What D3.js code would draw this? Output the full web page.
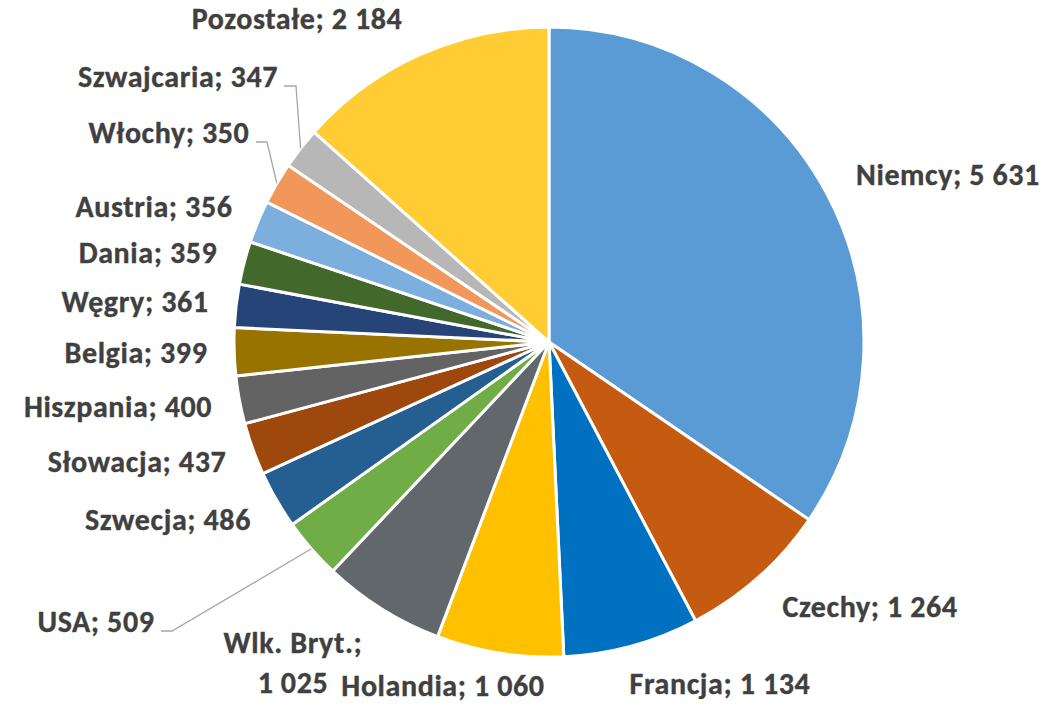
<!DOCTYPE html>
<html>
<head>
<meta charset="utf-8">
<script src="https://cdn.jsdelivr.net/npm/d3@7"></script>
<style>
  html, body { margin: 0; padding: 0; background: #fff; }
  svg { display: block; }
  .lbl { font-family: Carlito, Calibri, Lato, "Open Sans", sans-serif; font-weight: 700; fill: #404040;
         stroke: #404040; stroke-width: 0.35px; letter-spacing: 0.6px; }
</style>
</head>
<body>
<svg id="chart" width="1058" height="705"></svg>
<script>
// ---- data ----
const categories = ["Niemcy", "Czechy", "Francja", "Holandia", "Wlk. Bryt.", "USA", "Szwecja",
  "Słowacja", "Hiszpania", "Belgia", "Węgry", "Dania", "Austria", "Włochy", "Szwajcaria", "Pozostałe"];
const values = [5631, 1264, 1134, 1060, 1025, 509, 486, 437, 400, 399, 361, 359, 356, 350, 347, 2184];
const colors = ["#5B9BD5", "#C55A11", "#0070C0", "#FFC000", "#61676A", "#70AD47", "#255E91",
  "#9E480E", "#636363", "#997300", "#264478", "#43682B", "#7CAFDD", "#F1975A", "#B7B7B7", "#FFCC33"];

// ---- layout (label anchor: centre x, baseline y) ----
const labelLayout = [
  {x: 948, y: 185}, {x: 870, y: 617}, {x: 720, y: 694}, {x: 443, y: 696},
  {x: 293, y: 653, lines: 2}, {x: 96, y: 632, leader: [161, 172]}, {x: 168, y: 530},
  {x: 137, y: 472}, {x: 118, y: 417}, {x: 136, y: 363}, {x: 135, y: 312},
  {x: 148, y: 263}, {x: 154, y: 217}, {x: 169, y: 143, leader: [256, 267]},
  {x: 178, y: 87, leader: [284, 296]}, {x: 297, y: 29}
];

const cx = 549, cy = 342, R = 315;
const fontSize = 30;

const svg = d3.select("#chart");
const g = svg.append("g").attr("transform", `translate(${cx},${cy})`);

const data = categories.map((c, i) => ({name: c, value: values[i], color: colors[i], lay: labelLayout[i]}));
const pie = d3.pie().value(d => d.value).sort(null);
const arcs = pie(data);
const arc = d3.arc().innerRadius(0).outerRadius(R);

g.selectAll("path.slice").data(arcs).enter().append("path")
  .attr("class", "slice")
  .attr("d", arc)
  .attr("fill", d => d.data.color)
  .attr("stroke", "#fff")
  .attr("stroke-width", 3)
  .attr("stroke-linejoin", "round");

const fmt = v => d3.format(",")(v).replace(/,/g, " ");

// leader lines
const edgeArc = d3.arc().innerRadius(R).outerRadius(R);
arcs.filter(d => d.data.lay.leader).forEach(d => {
  const [ex, ey] = edgeArc.centroid(d);
  const L = d.data.lay;
  const y0 = L.y - 1;
  svg.append("polyline")
    .attr("points", `${L.leader[0]},${y0} ${L.leader[1]},${y0} ${cx + ex},${cy + ey}`)
    .attr("fill", "none")
    .attr("stroke", "#A6A6A6")
    .attr("stroke-width", 1.3);
});

// labels
arcs.forEach(d => {
  const L = d.data.lay;
  const t = svg.append("text").attr("class", "lbl")
    .attr("text-anchor", "middle")
    .style("font-size", fontSize + "px");
  if (L.lines === 2) {
    t.append("tspan").attr("x", L.x).attr("y", L.y).text(d.data.name + ";");
    t.append("tspan").attr("x", L.x).attr("y", L.y + 40).text(fmt(d.data.value));
  } else {
    t.attr("x", L.x).attr("y", L.y).text(d.data.name + "; " + fmt(d.data.value));
  }
});
</script>
</body>
</html>
